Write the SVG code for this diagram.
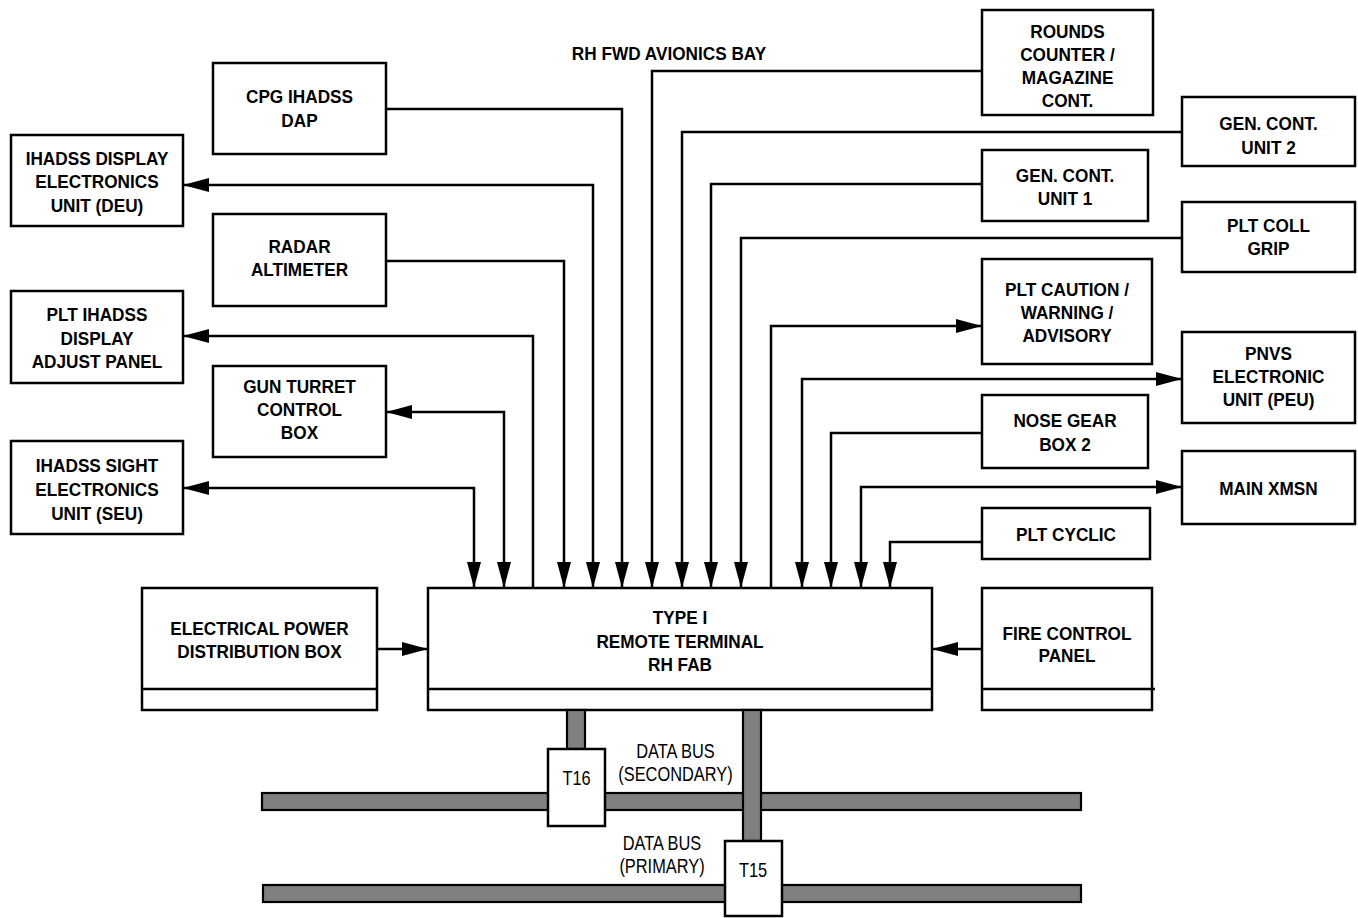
<svg xmlns="http://www.w3.org/2000/svg" width="1358" height="918" viewBox="0 0 1358 918">
<style>
.box{fill:#fff;stroke:#000;stroke-width:2.5}
.t{font-family:"Liberation Sans",Arial,sans-serif;font-weight:bold;font-size:18.5px;text-anchor:middle;fill:#000}
.r{font-family:"Liberation Sans",Arial,sans-serif;font-size:20px;text-anchor:middle;fill:#000}
.ln{fill:none;stroke:#000;stroke-width:2.5}
.bus{fill:#808080;stroke:#000;stroke-width:2.2}
.dv{stroke:#000;stroke-width:2.5}
</style>
<defs>
<marker id="ah" markerUnits="userSpaceOnUse" markerWidth="26" markerHeight="14" refX="26" refY="7" orient="auto-start-reverse" viewBox="0 0 26 14">
<path d="M0,0 L26,7 L0,14 Z" fill="#000"/>
</marker>
</defs>
<rect width="1358" height="918" fill="#fff"/>

<text class="t" transform="translate(669 0) scale(0.93 1)" x="0" y="60">RH FWD AVIONICS BAY</text>

<g id="connectors">
<path class="ln" d="M593,588 V185 H183" marker-start="url(#ah)" marker-end="url(#ah)"/>
<path class="ln" d="M386,109 H622 V588" marker-end="url(#ah)"/>
<path class="ln" d="M386,261 H564 V588" marker-end="url(#ah)"/>
<path class="ln" d="M533,588 V336 H183" marker-end="url(#ah)"/>
<path class="ln" d="M504,588 V412 H386" marker-start="url(#ah)" marker-end="url(#ah)"/>
<path class="ln" d="M474,588 V488 H183" marker-start="url(#ah)" marker-end="url(#ah)"/>
<path class="ln" d="M982,71 H652 V588" marker-end="url(#ah)"/>
<path class="ln" d="M1182,132 H682 V588" marker-end="url(#ah)"/>
<path class="ln" d="M982,184 H711 V588" marker-end="url(#ah)"/>
<path class="ln" d="M1182,238 H741 V588" marker-end="url(#ah)"/>
<path class="ln" d="M771,588 V326 H982" marker-end="url(#ah)"/>
<path class="ln" d="M802,588 V379 H1182" marker-start="url(#ah)" marker-end="url(#ah)"/>
<path class="ln" d="M982,433 H831 V588" marker-end="url(#ah)"/>
<path class="ln" d="M861,588 V487 H1182" marker-start="url(#ah)" marker-end="url(#ah)"/>
<path class="ln" d="M982,542 H890 V588" marker-end="url(#ah)"/>
<path class="ln" d="M377,649 H428" marker-end="url(#ah)"/>
<path class="ln" d="M982,649 H932" marker-end="url(#ah)"/>
</g>

<g id="cpg-dap">
<rect class="box" x="213" y="63" width="173" height="91"/>
<text class="t" transform="translate(299.5 0) scale(0.93 1)"><tspan x="0" y="103.5">CPG IHADSS</tspan><tspan x="0" y="127">DAP</tspan></text>
</g>
<g id="deu">
<rect class="box" x="11" y="135" width="172" height="91"/>
<text class="t" transform="translate(97 0) scale(0.93 1)"><tspan x="0" y="165">IHADSS DISPLAY</tspan><tspan x="0" y="188.5">ELECTRONICS</tspan><tspan x="0" y="212">UNIT (DEU)</tspan></text>
</g>
<g id="radar">
<rect class="box" x="213" y="214" width="173" height="92"/>
<text class="t" transform="translate(299.5 0) scale(0.93 1)"><tspan x="0" y="253">RADAR</tspan><tspan x="0" y="276">ALTIMETER</tspan></text>
</g>
<g id="plt-adjust">
<rect class="box" x="11" y="291" width="172" height="92"/>
<text class="t" transform="translate(97 0) scale(0.93 1)"><tspan x="0" y="321.5">PLT IHADSS</tspan><tspan x="0" y="345">DISPLAY</tspan><tspan x="0" y="368.5">ADJUST PANEL</tspan></text>
</g>
<g id="gun-turret">
<rect class="box" x="213" y="366" width="173" height="91"/>
<text class="t" transform="translate(299.5 0) scale(0.93 1)"><tspan x="0" y="393">GUN TURRET</tspan><tspan x="0" y="416.5">CONTROL</tspan><tspan x="0" y="439.5">BOX</tspan></text>
</g>
<g id="seu">
<rect class="box" x="11" y="441" width="172" height="93"/>
<text class="t" transform="translate(97 0) scale(0.93 1)"><tspan x="0" y="472">IHADSS SIGHT</tspan><tspan x="0" y="496">ELECTRONICS</tspan><tspan x="0" y="520">UNIT (SEU)</tspan></text>
</g>
<g id="epdb">
<rect class="box" x="142" y="588" width="235" height="122"/>
<line class="dv" x1="142" y1="689" x2="377" y2="689"/>
<text class="t" transform="translate(259.5 0) scale(0.93 1)"><tspan x="0" y="635">ELECTRICAL POWER</tspan><tspan x="0" y="658">DISTRIBUTION BOX</tspan></text>
</g>
<g id="remote-terminal">
<rect class="box" x="428" y="588" width="504" height="122"/>
<line class="dv" x1="428" y1="689" x2="932" y2="689"/>
<text class="t" transform="translate(680 0) scale(0.93 1)"><tspan x="0" y="624">TYPE I</tspan><tspan x="0" y="648">REMOTE TERMINAL</tspan><tspan x="0" y="671.5">RH FAB</tspan></text>
</g>
<g id="fire-control">
<rect class="box" x="982" y="588" width="170" height="122"/>
<line class="dv" x1="982" y1="689" x2="1155" y2="689"/>
<text class="t" transform="translate(1067 0) scale(0.93 1)"><tspan x="0" y="640">FIRE CONTROL</tspan><tspan x="0" y="662.5">PANEL</tspan></text>
</g>
<g id="rounds-counter">
<rect class="box" x="982" y="10" width="171" height="105"/>
<text class="t" transform="translate(1067.5 0) scale(0.93 1)"><tspan x="0" y="38.5">ROUNDS</tspan><tspan x="0" y="61.5">COUNTER /</tspan><tspan x="0" y="84.5">MAGAZINE</tspan><tspan x="0" y="107.5">CONT.</tspan></text>
</g>
<g id="gen-cont-2">
<rect class="box" x="1182" y="97" width="173" height="69"/>
<text class="t" transform="translate(1268.5 0) scale(0.93 1)"><tspan x="0" y="130.5">GEN. CONT.</tspan><tspan x="0" y="154">UNIT 2</tspan></text>
</g>
<g id="gen-cont-1">
<rect class="box" x="982" y="150" width="166" height="71"/>
<text class="t" transform="translate(1065 0) scale(0.93 1)"><tspan x="0" y="182">GEN. CONT.</tspan><tspan x="0" y="205">UNIT 1</tspan></text>
</g>
<g id="plt-coll-grip">
<rect class="box" x="1182" y="202" width="173" height="70"/>
<text class="t" transform="translate(1268.5 0) scale(0.93 1)"><tspan x="0" y="232.5">PLT COLL</tspan><tspan x="0" y="255.5">GRIP</tspan></text>
</g>
<g id="plt-caution">
<rect class="box" x="982" y="259" width="170" height="105"/>
<text class="t" transform="translate(1067 0) scale(0.93 1)"><tspan x="0" y="296.5">PLT CAUTION /</tspan><tspan x="0" y="319.5">WARNING /</tspan><tspan x="0" y="342.5">ADVISORY</tspan></text>
</g>
<g id="pnvs">
<rect class="box" x="1182" y="332" width="173" height="91"/>
<text class="t" transform="translate(1268.5 0) scale(0.93 1)"><tspan x="0" y="360">PNVS</tspan><tspan x="0" y="383.5">ELECTRONIC</tspan><tspan x="0" y="406.5">UNIT (PEU)</tspan></text>
</g>
<g id="nose-gear">
<rect class="box" x="982" y="395" width="166" height="73"/>
<text class="t" transform="translate(1065 0) scale(0.93 1)"><tspan x="0" y="427.5">NOSE GEAR</tspan><tspan x="0" y="451">BOX 2</tspan></text>
</g>
<g id="main-xmsn">
<rect class="box" x="1182" y="451" width="173" height="73"/>
<text class="t" transform="translate(1268.5 0) scale(0.93 1)" x="0" y="495">MAIN XMSN</text>
</g>
<g id="plt-cyclic">
<rect class="box" x="982" y="508" width="168" height="51"/>
<text class="t" transform="translate(1066 0) scale(0.93 1)" x="0" y="541">PLT CYCLIC</text>
</g>

<g id="data-bus">
<rect class="bus" x="262" y="793" width="819" height="17"/>
<rect class="bus" x="263" y="885" width="818" height="17"/>
<rect class="bus" x="567" y="710" width="18" height="39"/>
<rect class="bus" x="743" y="710" width="18" height="131"/>
<text class="r" transform="translate(675.5 0) scale(0.82 1)"><tspan x="0" y="758">DATA BUS</tspan><tspan x="0" y="781.5">(SECONDARY)</tspan></text>
<text class="r" transform="translate(662 0) scale(0.82 1)"><tspan x="0" y="850">DATA BUS</tspan><tspan x="0" y="873.5">(PRIMARY)</tspan></text>
</g>
<g id="t16">
<rect class="box" x="548" y="749" width="57" height="77"/>
<text class="r" transform="translate(576.5 0) scale(0.82 1)" x="0" y="785">T16</text>
</g>
<g id="t15">
<rect class="box" x="725" y="841" width="57" height="75"/>
<text class="r" transform="translate(753 0) scale(0.82 1)" x="0" y="877">T15</text>
</g>
</svg>
